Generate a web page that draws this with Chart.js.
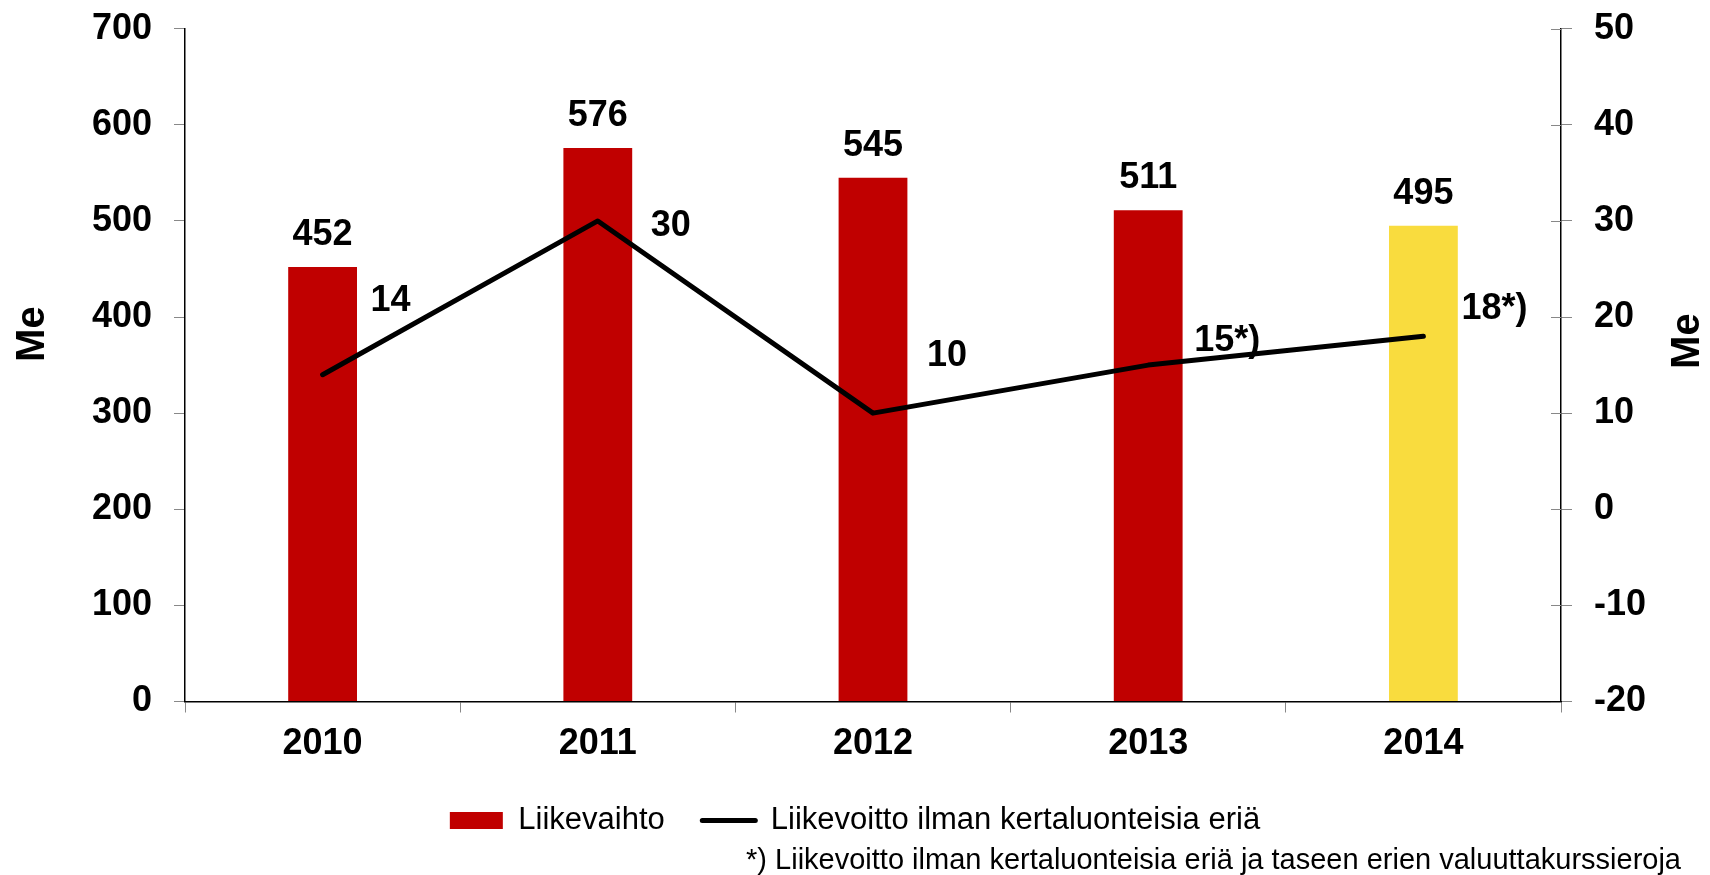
<!DOCTYPE html>
<html>
<head>
<meta charset="utf-8">
<script src="https://cdn.jsdelivr.net/npm/chart.js@4.4.1/dist/chart.umd.min.js"></script>
<style>
  html, body { margin: 0; padding: 0; background: #fff; }
</style>
</head>
<body>
<canvas id="chart" width="1710" height="875"></canvas>
<script>
// data
const years = ['2010', '2011', '2012', '2013', '2014'];
const revenue = [452, 576, 545, 511, 495];          // Liikevaihto, Me
const profit = [14, 30, 10, 15, 18];                // Liikevoitto, Me
const profitNotes = ['', '', '', '*)', '*)'];
const barColors = ['#C00000', '#C00000', '#C00000', '#C00000', '#F9DC3E'];

// label nudges for the line values (px from the point)
const profitLabelDx = [48, 53, 54, 46, 38];
const profitLabelDy = [-74, 5, -57, -24, -27];

const FONT = '"Liberation Sans", Arial, sans-serif';
Chart.defaults.font.family = FONT;
Chart.defaults.color = '#000';

const tickFont = { size: 36, weight: 'bold' };

const labelPlugin = {
    id: 'valueLabels',
    afterDraw(chart) {
        const ctx = chart.ctx;
        const area = chart.chartArea;
        ctx.save();

        // inner half of the right axis ticks
        const y2 = chart.scales.y2;
        ctx.strokeStyle = '#888';
        ctx.lineWidth = 1;
        y2.ticks.forEach(t => {
            const py = Math.round(y2.getPixelForValue(t.value)) + 0.5;
            ctx.beginPath();
            ctx.moveTo(area.right - 10, py);
            ctx.lineTo(area.right, py);
            ctx.stroke();
        });

        ctx.fillStyle = '#000';
        ctx.font = 'bold 36px ' + FONT;
        ctx.textBaseline = 'middle';
        ctx.textAlign = 'center';
        chart.getDatasetMeta(0).data.forEach((bar, i) => {
            ctx.fillText(String(revenue[i]), bar.x, bar.y - 32);
        });

        ctx.textAlign = 'left';
        chart.getDatasetMeta(1).data.forEach((pt, i) => {
            ctx.fillText(profit[i] + profitNotes[i], pt.x + profitLabelDx[i], pt.y + profitLabelDy[i]);
        });

        // axis titles, both read bottom-to-top
        ctx.font = 'bold 40px ' + FONT;
        ctx.textAlign = 'center';
        const midY = (area.top + area.bottom) / 2;
        [[33, midY - 31], [1688, midY - 24]].forEach(([x, y]) => {
            ctx.save();
            ctx.translate(x, y);
            ctx.rotate(-Math.PI / 2);
            ctx.fillText('Me', 0, 0);
            ctx.restore();
        });
        ctx.restore();
    }
};

new Chart(document.getElementById('chart'), {
    type: 'bar',
    data: {
        labels: years,
        datasets: [
            {
                label: 'Liikevaihto',
                data: revenue,
                backgroundColor: barColors,
                borderWidth: 0,
                categoryPercentage: 1,
                barPercentage: 0.25,
                yAxisID: 'y',
                order: 2
            },
            {
                type: 'line',
                label: 'Liikevoitto ilman kertaluonteisia eriä',
                data: profit,
                borderColor: '#000',
                backgroundColor: '#000',
                borderWidth: 5,
                borderCapStyle: 'round',
                borderJoinStyle: 'round',
                pointRadius: 0,
                tension: 0,
                yAxisID: 'y2',
                order: 1
            }
        ]
    },
    options: {
        responsive: false,
        animation: false,
        devicePixelRatio: 1,
        layout: { padding: { left: 29, right: 29, top: 28.7, bottom: 0 } },
        plugins: {
            tooltip: { enabled: false },
            legend: {
                position: 'bottom',
                labels: {
                    usePointStyle: true,
                    pointStyleWidth: 53,
                    boxHeight: 17,
                    padding: 37.5,
                    color: '#000',
                    font: { size: 31 },
                    sort: (a, b) => a.datasetIndex - b.datasetIndex,
                    generateLabels: chart => Chart.defaults.plugins.legend.labels.generateLabels(chart).map(it => {
                        const isBar = it.datasetIndex === 0;
                        return {
                            ...it,
                            pointStyle: isBar ? 'rect' : 'line',
                            fillStyle: isBar ? barColors[0] : '#000',
                            strokeStyle: isBar ? barColors[0] : '#000',
                            lineWidth: isBar ? 0 : 5,
                            lineCap: 'round'
                        };
                    })
                }
            },
            subtitle: {
                display: true,
                position: 'bottom',
                align: 'end',
                text: '*) Liikevoitto ilman kertaluonteisia eriä ja taseen erien valuuttakurssieroja',
                color: '#000',
                font: { size: 29, weight: 'normal', lineHeight: 1 },
                padding: 0
            }
        },
        scales: {
            x: {
                offset: true,
                grid: { display: true, drawOnChartArea: false, drawTicks: true, tickLength: 11, color: '#888', offset: true },
                border: { color: '#000', width: 1.5 },
                ticks: { color: '#000', font: tickFont, padding: 10 },
                afterFit: s => { s.height = 66; }
            },
            y: {
                position: 'left',
                min: 0,
                max: 700,
                ticks: { stepSize: 100, color: '#000', font: tickFont, padding: 22 },
                grid: { drawOnChartArea: false, tickLength: 11, color: '#888' },
                border: { color: '#000', width: 1.5 },
                afterFit: s => { s.width = 156; s.paddingTop = 20; s.paddingBottom = 20; }
            },
            y2: {
                position: 'right',
                min: -20,
                max: 50,
                ticks: { stepSize: 10, color: '#000', font: tickFont, padding: 22 },
                grid: { drawOnChartArea: false, tickLength: 11, color: '#888' },
                border: { color: '#000', width: 1.5 },
                afterFit: s => { s.width = 120; s.paddingTop = 20; s.paddingBottom = 20; }
            }
        }
    },
    plugins: [labelPlugin]
});
</script>
</body>
</html>
